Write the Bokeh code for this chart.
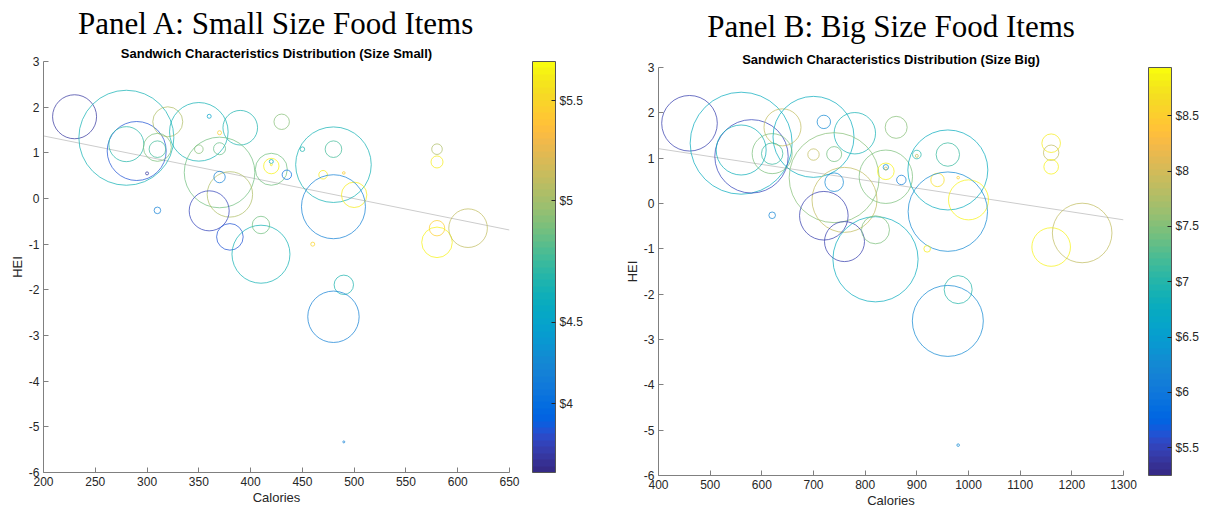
from bokeh.plotting import figure
from bokeh.layouts import row, column
from bokeh.models import (ColumnDataSource, LinearColorMapper, ColorBar, FixedTicker,
                          Range1d, Title, Spacer, CustomJSTickFormatter)
from bokeh.transform import transform
from bokeh.embed import file_html
from bokeh.resources import INLINE

# ---------------- data ----------------
# Panel A: small size items (calories, HEI, price, bubble radius)
cal_a = [230, 280, 290, 280, 320, 310, 310, 300, 310, 350, 360, 370, 390, 350, 370,
         370, 380, 370, 360, 380, 410, 410, 420, 420, 420, 420, 435, 430, 480, 480,
         450, 470, 490, 500, 480, 460, 580, 580, 580, 580, 610, 490, 480, 490]
hei_a = [1.79, 1.33, 1.04, 1.19, 1.68, 1.12, 1.08, 0.55, -0.26, 1.46, 1.80, 1.44, 1.55, 1.08, 1.09,
         0.57, 0.09, 0.47, -0.27, -0.84, -1.22, -0.58, 0.64, 0.71, 0.81, 0.74, 0.52, 1.68, 0.74, 1.08,
         1.08, 0.52, 0.56, 0.08, -0.18, -1.00, 1.08, 0.80, -0.65, -0.96, -0.65, -1.89, -2.59, -5.33]
price_a = [3.72, 4.55, 3.85, 4.62, 5.05, 4.88, 4.72, 3.72, 4.15, 4.55, 4.40, 5.45, 4.58, 4.90, 4.80,
           4.84, 5.05, 4.15, 3.80, 3.85, 4.55, 4.86, 4.86, 5.65, 4.45, 5.60, 3.98, 4.90, 4.55, 4.72,
           4.60, 5.60, 5.45, 5.62, 4.15, 5.50, 5.05, 5.62, 5.45, 5.65, 5.10, 4.60, 4.15, 4.15]
bubble_a = [22, 47.5, 29.5, 17.5, 15, 14, 8.3, 1.5, 3.3, 29.3, 2, 2, 17.3, 4.3, 6,
            35.3, 22.7, 5.7, 20, 13.3, 29, 8.7, 16, 7.7, 2, 1, 4.7, 7.7, 37.8, 8.3,
            2.3, 4.3, 1.3, 12.7, 32, 2, 5.3, 6, 7.7, 15.3, 19.3, 9.7, 25.7, 1]
fit_x_a = [200, 650]
fit_y_a = [1.37, -0.69]
cbar_ticks_a = [3.983, 4.392, 5.0, 5.5]
cbar_labels_a = ["$4", "$4.5", "$5", "$5.5"]
cbar_range_a = [3.64, 5.695]

# Panel B: big size items
cal_b = [460, 560, 580, 560, 640, 620, 620, 700, 720, 700, 740, 780, 740, 760, 740,
         720, 760, 820, 820, 620, 860, 840, 840, 840, 840, 870, 900, 900, 960, 960,
         940, 980, 1000, 960, 920, 1160, 1160, 1160, 1160, 1220, 980, 960, 980]
hei_b = [1.77, 1.33, 1.04, 1.18, 1.68, 1.10, 1.10, 1.47, 1.80, 1.08, 1.09, 1.55, 0.57, 0.08, 0.47,
         -0.27, -0.84, -1.23, -0.58, -0.26, 1.68, 0.59, 0.71, 0.80, 0.77, 0.52, 1.08, 1.05, 0.74, 1.08,
         0.52, 0.57, 0.08, -0.18, -1.00, 1.33, 1.12, 0.81, -0.96, -0.65, -1.90, -2.59, -5.33]
price_b = [5.45, 6.80, 5.50, 6.85, 7.85, 7.45, 7.10, 6.80, 6.25, 7.85, 7.40, 6.90, 7.50, 7.85, 6.25,
           5.45, 5.45, 6.80, 7.45, 6.20, 7.50, 7.45, 8.85, 6.40, 7.90, 6.10, 7.00, 7.85, 6.80, 7.15,
           8.70, 8.50, 8.85, 6.25, 8.80, 8.80, 7.85, 8.85, 8.85, 7.85, 7.00, 6.25, 6.25]
bubble_b = [27.8, 51, 36.7, 25, 18.5, 20, 10.7, 40.5, 6.7, 5.7, 7.5, 20.7, 45, 32.5, 9.3,
            24.3, 20, 42.6, 14, 3.3, 11, 26.7, 8.3, 2.7, 1.5, 4.7, 4.3, 1.5, 40, 11.7,
            6.7, 1.3, 20, 39.7, 3.3, 9.3, 7.7, 7.3, 19.3, 29.8, 14, 35.5, 1.3]
fit_x_b = [400, 1300]
fit_y_b = [1.21, -0.36]
cbar_ticks_b = [5.5, 6.0, 6.5, 7.0, 7.5, 8.0, 8.5]
cbar_labels_b = ["$5.5", "$6", "$6.5", "$7", "$7.5", "$8", "$8.5"]
cbar_range_b = [5.25, 8.936]

# ---------------- colormap (parula 64) ----------------
_par = [
 (0.2081,0.1663,0.5292),(0.2116,0.1898,0.5777),(0.2123,0.2138,0.6270),(0.2081,0.2386,0.6771),
 (0.1959,0.2645,0.7279),(0.1707,0.2919,0.7792),(0.1253,0.3242,0.8303),(0.0591,0.3598,0.8683),
 (0.0117,0.3875,0.8820),(0.0060,0.4086,0.8828),(0.0165,0.4266,0.8786),(0.0329,0.4430,0.8720),
 (0.0498,0.4586,0.8641),(0.0629,0.4737,0.8554),(0.0723,0.4887,0.8467),(0.0779,0.5040,0.8384),
 (0.0793,0.5200,0.8312),(0.0749,0.5375,0.8263),(0.0641,0.5570,0.8240),(0.0488,0.5772,0.8228),
 (0.0343,0.5966,0.8199),(0.0265,0.6137,0.8135),(0.0239,0.6287,0.8038),(0.0231,0.6418,0.7913),
 (0.0228,0.6535,0.7768),(0.0267,0.6642,0.7607),(0.0384,0.6743,0.7436),(0.0590,0.6838,0.7254),
 (0.0843,0.6928,0.7062),(0.1133,0.7015,0.6859),(0.1453,0.7098,0.6646),(0.1801,0.7177,0.6424),
 (0.2178,0.7250,0.6193),(0.2586,0.7317,0.5954),(0.3022,0.7376,0.5712),(0.3482,0.7424,0.5473),
 (0.3953,0.7459,0.5244),(0.4420,0.7481,0.5033),(0.4871,0.7491,0.4840),(0.5300,0.7491,0.4661),
 (0.5709,0.7485,0.4494),(0.6099,0.7473,0.4337),(0.6473,0.7456,0.4188),(0.6834,0.7435,0.4044),
 (0.7184,0.7411,0.3905),(0.7525,0.7384,0.3768),(0.7858,0.7356,0.3633),(0.8185,0.7327,0.3498),
 (0.8507,0.7299,0.3360),(0.8824,0.7274,0.3217),(0.9139,0.7258,0.3063),(0.9450,0.7261,0.2886),
 (0.9739,0.7314,0.2666),(0.9938,0.7455,0.2403),(0.9990,0.7653,0.2164),(0.9955,0.7861,0.1967),
 (0.9880,0.8066,0.1794),(0.9789,0.8271,0.1633),(0.9697,0.8481,0.1475),(0.9626,0.8705,0.1309),
 (0.9589,0.8949,0.1132),(0.9598,0.9218,0.0948),(0.9661,0.9514,0.0755),(0.9763,0.9831,0.0538)]
PARULA = ["#%02x%02x%02x" % tuple(int(round(c * 255)) for c in rgb) for rgb in _par]

TXT = "#262626"
AX = "#808080"
SANS = "Liberation Sans"


def make_panel(cal, hei, price, bubble, fit_x, fit_y, xr, xticks, crange, cticks, clabels,
               title_big, title_small, frame_w, frame_h, mb_left, mb_right, mb_bottom,
               cb_gap, cb_w, big_standoff, big_offset):
    p = figure(frame_width=frame_w, frame_height=frame_h,
               x_range=Range1d(*xr), y_range=Range1d(-6, 3),
               output_backend="svg", toolbar_location=None,
               min_border_left=mb_left, min_border_right=mb_right,
               min_border_top=0, min_border_bottom=mb_bottom)
    p.outline_line_color = None
    p.xgrid.visible = False
    p.ygrid.visible = False

    # big panel title (outermost)
    p.title.text = title_big
    p.title.align = "center"
    p.title.offset = big_offset
    p.title.text_font = "Liberation Serif"
    p.title.text_font_size = "31px"
    p.title.text_font_style = "normal"
    p.title.text_color = "black"
    p.title.standoff = big_standoff
    # bold axes title (closest to the plot area)
    p.add_layout(Title(text=title_small, align="center", text_font=SANS,
                       text_font_size="13px", text_font_style="bold", text_color="black",
                       standoff=1), "above")

    for ax in (p.xaxis[0], p.yaxis[0]):
        ax.axis_line_color = AX
        ax.axis_line_width = 1
        ax.major_tick_line_color = AX
        ax.major_tick_in = 5
        ax.major_tick_out = 0
        ax.minor_tick_line_color = None
        ax.major_label_text_font = SANS
        ax.major_label_text_font_size = "12px"
        ax.major_label_text_color = TXT
        ax.major_label_standoff = 4
        ax.axis_label_text_font = SANS
        ax.axis_label_text_font_size = "13px"
        ax.axis_label_text_font_style = "normal"
        ax.axis_label_text_color = TXT
        ax.axis_label_standoff = 1
    p.xaxis.ticker = FixedTicker(ticks=xticks)
    p.xaxis.major_label_overrides = {t: str(t) for t in xticks}
    yt = list(range(-6, 4))
    p.yaxis.ticker = FixedTicker(ticks=yt)
    p.yaxis.major_label_overrides = {t: str(t) for t in yt}
    p.xaxis.axis_label = "Calories"
    p.yaxis.axis_label = "HEI"

    mapper = LinearColorMapper(palette=PARULA, low=crange[0], high=crange[1])

    p.line(fit_x, fit_y, line_color="#cccccc", line_width=1)

    src = ColumnDataSource(dict(cal=cal, hei=hei, price=price, d=[2 * r for r in bubble]))
    p.scatter("cal", "hei", size="d", source=src, marker="circle", fill_color=None,
              line_color=transform("price", mapper), line_alpha=0.72, line_width=1)

    cb = ColorBar(color_mapper=mapper, ticker=FixedTicker(ticks=cticks),
                  formatter=CustomJSTickFormatter(args=dict(labs=clabels, tk=cticks),
                                                  code="""
                      let best = 0, bd = 1e9;
                      for (let i = 0; i < tk.length; i++) {
                        const dd = Math.abs(tk[i] - tick);
                        if (dd < bd) { bd = dd; best = i; }
                      }
                      return labs[best];"""),
                  width=cb_w, padding=0, margin=0, location=(cb_gap, 0),
                  major_tick_in=4, major_tick_out=0, major_tick_line_color=TXT,
                  minor_tick_line_color=None,
                  bar_line_color="#555555", bar_line_width=1,
                  major_label_text_font=SANS, major_label_text_font_size="12px",
                  major_label_text_color=TXT, label_standoff=4,
                  background_fill_alpha=0, border_line_color=None)
    p.add_layout(cb, "right")
    return p


pa = make_panel(cal_a, hei_a, price_a, bubble_a, fit_x_a, fit_y_a, (200, 650),
                list(range(200, 651, 50)), cbar_range_a, cbar_ticks_a, cbar_labels_a,
                "Panel A: Small Size Food Items",
                "Sandwich Characteristics Distribution (Size Small)",
                frame_w=466, frame_h=411, mb_left=35, mb_right=88, mb_bottom=37,
                cb_gap=23, cb_w=23, big_standoff=6, big_offset=-3)
pb = make_panel(cal_b, hei_b, price_b, bubble_b, fit_x_b, fit_y_b, (400, 1300),
                list(range(400, 1301, 100)), cbar_range_b, cbar_ticks_b, cbar_labels_b,
                "Panel B: Big Size Food Items",
                "Sandwich Characteristics Distribution (Size Big)",
                frame_w=465, frame_h=408, mb_left=61, mb_right=77, mb_bottom=34,
                cb_gap=25, cb_w=23, big_standoff=12, big_offset=-2)

layout = row(Spacer(width=6), column(pa), column(pb))
open("out.html", "w").write(file_html(layout, INLINE))
